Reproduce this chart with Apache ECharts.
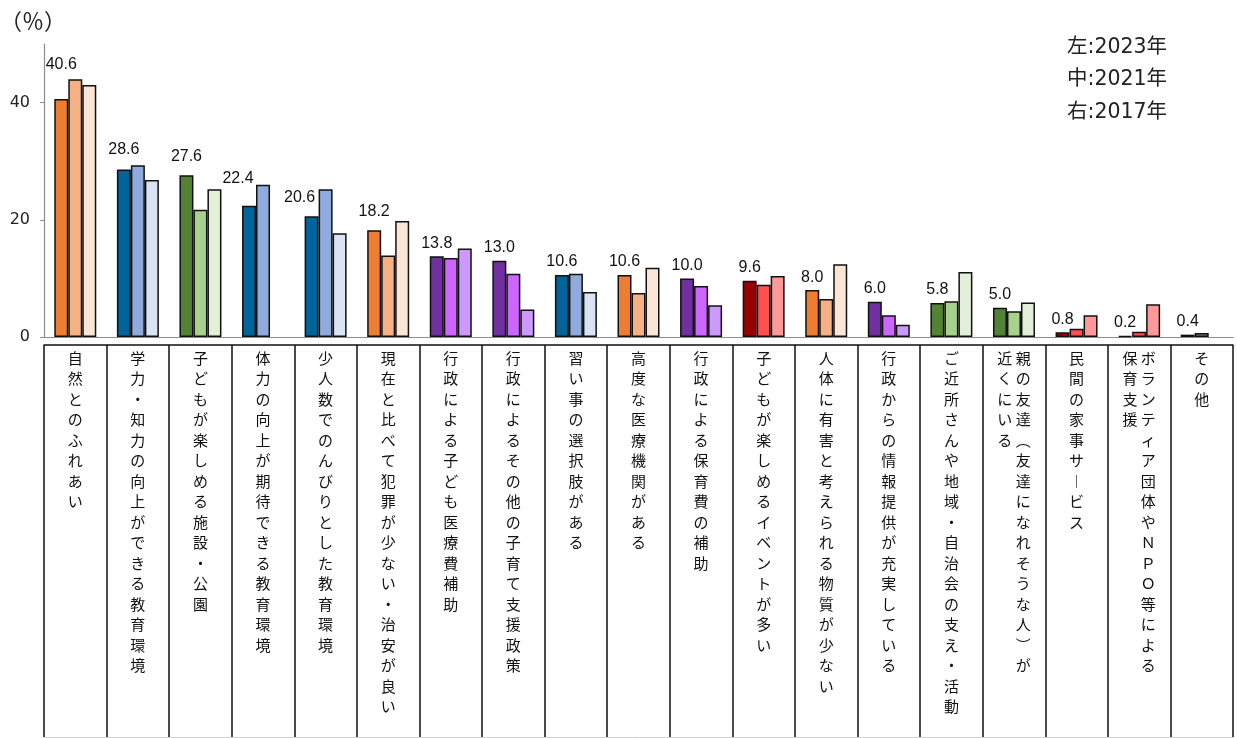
<!DOCTYPE html>
<html lang="ja">
<head>
<meta charset="utf-8">
<title>子育て環境として重視する点</title>
<script src="https://cdn.jsdelivr.net/npm/echarts@6/dist/echarts.min.js"></script>
<style>
  html, body { margin: 0; padding: 0; background: #fff; }
  #chart { width: 1237px; height: 738px; }
</style>
</head>
<body>
<div id="chart"></div>
<script>
// ---- data ----
// "\n" marks where a vertical label continues in a second column
const categories = [
  '自然とのふれあい',
  '学力・知力の向上ができる教育環境',
  '子どもが楽しめる施設・公園',
  '体力の向上が期待できる教育環境',
  '少人数でのんびりとした教育環境',
  '現在と比べて犯罪が少ない・治安が良い',
  '行政による子ども医療費補助',
  '行政によるその他の子育て支援政策',
  '習い事の選択肢がある',
  '高度な医療機関がある',
  '行政による保育費の補助',
  '子どもが楽しめるイベントが多い',
  '人体に有害と考えられる物質が少ない',
  '行政からの情報提供が充実している',
  'ご近所さんや地域・自治会の支え・活動',
  '親の友達（友達になれそうな人）が\n近くにいる',
  '民間の家事サービス',
  'ボランティア団体やＮＰＯ等による\n保育支援',
  'その他'
];
const values2023 = [40.6, 28.6, 27.6, 22.4, 20.6, 18.2, 13.8, 13.0, 10.6, 10.6, 10.0, 9.6, 8.0, 6.0, 5.8, 5.0, 0.8, 0.2, 0.4];
const values2021 = [44.0, 29.3, 21.7, 26.0, 25.2, 13.9, 13.5, 10.8, 10.8, 7.5, 8.7, 8.9, 6.5, 3.7, 6.1, 4.4, 1.4, 0.9, 0.7];
const values2017 = [43.0, 26.8, 25.2, null, 17.7, 19.8, 15.1, 4.7, 7.7, 11.8, 5.4, 10.4, 12.4, 2.1, 11.1, 5.9, 3.7, 5.6, null];
const years = ['2023', '2021', '2017'];
const sides = ['左', '中', '右'];
const yTicks = [0, 20, 40];

// ---- styles ----
const shades = {
  orange: ['#ED7D31', '#F4B183', '#FBE5D6'],
  blue:   ['#00639A', '#8FAADC', '#DAE3F3'],
  green:  ['#548235', '#A9D18E', '#E2F0D9'],
  purple: ['#7030A0', '#CC66FF', '#CC99FF'],
  red:    ['#990000', '#FF5050', '#FF9999'],
  gray:   ['#111111', '#808080', '#BFBFBF']
};
const familyOf = ['orange', 'blue', 'green', 'blue', 'blue', 'orange', 'purple', 'purple', 'blue',
  'orange', 'purple', 'red', 'orange', 'purple', 'green', 'green', 'red', 'red', 'gray'];
// extra nudges [dx, dy] for value labels that sit above neighbouring bars
const labelNudge = { 0: [0, -21], 1: [0, -7], 2: [0, -6], 3: [-11, -14], 4: [-12, -6], 5: [0, -6] };

const CJK = '"Noto Sans CJK JP", "Noto Sans", sans-serif';
const VERTICAL_FORMS = { '（': '︵', '）': '︶', 'ー': '︱' };

// Lay a label out top-to-bottom; extra columns go to the left of the first.
function verticalText(label) {
  const cols = label.split('\n').map(c => Array.from(c).map(ch => VERTICAL_FORMS[ch] || ch));
  const rows = Math.max(...cols.map(c => c.length));
  const lines = [];
  for (let i = 0; i < rows; i++) {
    lines.push(cols.slice().reverse().map(c => c[i] || '\u3000').join(' '));
  }
  return lines.join('\n');
}

function barData(values, shadeIndex) {
  return values.map((v, i) => ({
    value: v,
    itemStyle: { color: shades[familyOf[i]][shadeIndex] }
  }));
}

const data2023 = barData(values2023, 0).map((d, i) => {
  const n = labelNudge[i];
  if (n) d.label = { offset: n };
  return d;
});

const barBase = {
  type: 'bar',
  barWidth: 14,
  barGap: '0%',
  itemStyle: { borderColor: '#111', borderWidth: 1.5 },
  emphasis: { disabled: true },
  animation: false
};

const chart = echarts.init(document.getElementById('chart'), null, { renderer: 'canvas' });

chart.setOption({
  backgroundColor: '#ffffff',
  title: [
    {
      text: '（％）',
      left: 0, top: 10, padding: 0,
      textStyle: { fontFamily: CJK, fontSize: 22, fontWeight: 'normal', color: '#222' }
    },
    {
      text: years.map((y, i) => sides[i] + ':' + y + '年').join('\n'),
      left: 1067, top: 31, padding: 0,
      textStyle: {
        fontFamily: '"DejaVu Sans", "Noto Sans CJK JP", sans-serif',
        fontSize: 20.5, fontWeight: 'normal', color: '#222', lineHeight: 32.5
      }
    }
  ],
  grid: { left: 44, right: 4, top: 44, bottom: 401 },
  xAxis: [
    {
      type: 'category', data: categories, gridIndex: 0,
      axisLine: { lineStyle: { color: '#8c8c8c', width: 1.2 } },
      axisTick: { show: false },
      axisLabel: { show: false }
    },
    {
      // table of category names under the axis
      type: 'category', data: categories, gridIndex: 0, position: 'bottom', offset: 8,
      axisLine: { lineStyle: { color: '#111', width: 1.5 } },
      axisTick: { show: true, length: 392, lineStyle: { color: '#111', width: 1.5 } },
      axisLabel: {
        interval: 0, margin: 3, color: '#111',
        fontFamily: CJK, fontSize: 15, lineHeight: 20.5,
        verticalAlign: 'top', align: 'center',
        formatter: verticalText
      }
    },
    {
      type: 'category', data: categories, gridIndex: 0, position: 'bottom', offset: 400,
      axisLine: { lineStyle: { color: '#d0d0d0', width: 1 } },
      axisTick: { show: false },
      axisLabel: { show: false }
    }
  ],
  yAxis: {
    type: 'value', min: 0, max: 50, interval: 10,
    axisLine: { show: true, lineStyle: { color: '#8c8c8c', width: 1.2 } },
    axisTick: { show: true, length: 4, customValues: yTicks, lineStyle: { color: '#8c8c8c' } },
    splitLine: { show: false },
    axisLabel: {
      customValues: yTicks, margin: 14, color: '#222',
      fontFamily: '"DejaVu Sans", sans-serif', fontSize: 16
    }
  },
  series: [
    Object.assign({}, barBase, {
      name: years[0], xAxisIndex: 0, data: data2023,
      label: {
        show: true, position: 'top', distance: 5, color: '#111',
        fontFamily: '"Liberation Sans", Arial, sans-serif', fontSize: 16,
        formatter: p => p.value.toFixed(1)
      }
    }),
    Object.assign({}, barBase, { name: years[1], xAxisIndex: 0, data: barData(values2021, 1) }),
    Object.assign({}, barBase, { name: years[2], xAxisIndex: 0, data: barData(values2017, 2) })
  ]
});
</script>
</body>
</html>
